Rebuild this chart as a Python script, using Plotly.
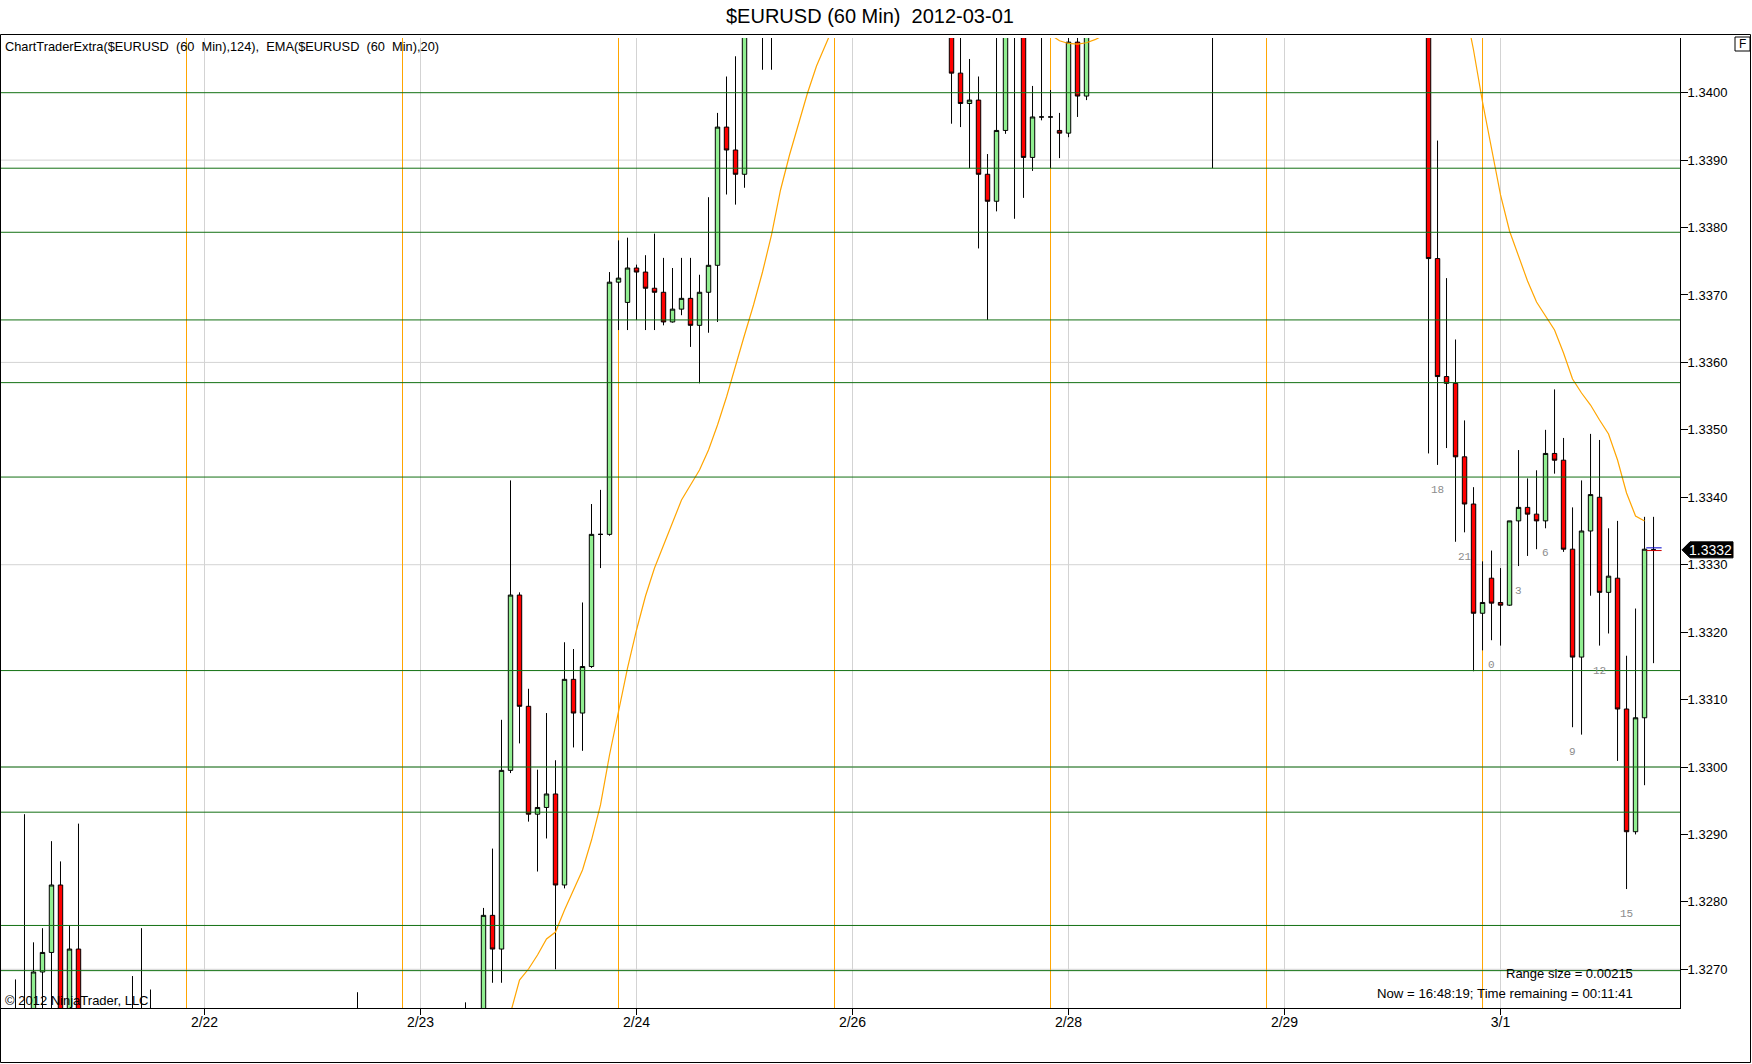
import plotly.graph_objects as go

# ---------------- data ----------------
title_text = "$EURUSD (60 Min)  2012-03-01"
indicator_text = "ChartTraderExtra($EURUSD  (60  Min),124),  EMA($EURUSD  (60  Min),20)"
copyright_text = "© 2012 NinjaTrader, LLC"
range_text = "Range size = 0.00215"
now_text = "Now = 16:48:19; Time remaining = 00:11:41"

# bar slot index (one slot = one 60-minute bar), only bars that reach the visible price window
bar = [-21, -20, -19, -18, -17, -16, -15, -14, -8, -7, -6,
       17, 29, 31, 32, 33, 34, 35, 36, 37, 38, 39, 40, 41, 42, 43, 44, 45, 46, 47,
       48, 49, 50, 51, 52, 53, 54, 55, 56, 57, 58, 59, 60, 62, 63,
       83, 84, 85, 86, 87, 88, 89, 90, 91, 92, 93, 94, 95, 96, 97, 98, 112,
       136, 137, 138, 139, 140, 141, 142, 143, 144, 145, 146, 147, 148, 149, 150,
       151, 152, 153, 154, 155, 156, 157, 158, 159, 160, 161]
opn = [1.32580, 1.32620, 1.32580, 1.32696, 1.32725, 1.32825, 1.32600, 1.32730, 1.32620, 1.32620, 1.32620,
       1.32620, 1.32620, 1.32620, 1.32780, 1.32730, 1.32995, 1.33255, 1.33090, 1.32930, 1.32940, 1.32960, 1.32825, 1.33130, 1.33080, 1.33149, 1.33345, 1.33345, 1.33719, 1.33689,
       1.33740, 1.33734, 1.33710, 1.33704, 1.33660, 1.33679, 1.33695, 1.33655, 1.33704, 1.33744, 1.33949, 1.33915, 1.33879, 1.34150, 1.34180,
       1.34120, 1.34029, 1.33984, 1.33989, 1.33879, 1.33839, 1.33944, 1.34120, 1.34100, 1.33904, 1.33964, 1.33964, 1.33944, 1.33940, 1.34075, 1.33995, 1.34120,
       1.34120, 1.33754, 1.33579, 1.33569, 1.33460, 1.33390, 1.33228, 1.33280, 1.33244, 1.33240, 1.33365, 1.33385, 1.33375, 1.33365, 1.33465,
       1.33455, 1.33323, 1.33163, 1.33350, 1.33400, 1.33259, 1.33280, 1.33086, 1.32904, 1.33073, 1.33322]
high = [1.32685, 1.32930, 1.32740, 1.32761, 1.32890, 1.32860, 1.32765, 1.32916, 1.32690, 1.32761, 1.32670,
        1.32666, 1.32651, 1.32791, 1.32879, 1.33070, 1.33425, 1.33259, 1.33116, 1.32996, 1.33080, 1.33010, 1.33185, 1.33175, 1.33244, 1.33390, 1.33411, 1.33734, 1.33781, 1.33785,
        1.33745, 1.33759, 1.33791, 1.33755, 1.33740, 1.33755, 1.33755, 1.33730, 1.33845, 1.33970, 1.34024, 1.34054, 1.34180, 1.34200, 1.34220,
        1.34150, 1.34100, 1.34050, 1.34024, 1.33909, 1.34100, 1.34150, 1.34160, 1.34130, 1.34010, 1.34090, 1.34004, 1.33970, 1.34100, 1.34090, 1.34120, 1.34150,
        1.34150, 1.33929, 1.33725, 1.33634, 1.33514, 1.33415, 1.33305, 1.33321, 1.33295, 1.33365, 1.33470, 1.33428, 1.33440, 1.33500, 1.33560,
        1.33488, 1.33385, 1.33425, 1.33494, 1.33485, 1.33354, 1.33365, 1.33165, 1.33235, 1.33371, 1.33371]
low = [1.32550, 1.32520, 1.32550, 1.32600, 1.32600, 1.32560, 1.32560, 1.32560, 1.32560, 1.32550, 1.32580,
       1.32560, 1.32550, 1.32580, 1.32680, 1.32680, 1.32991, 1.33035, 1.32919, 1.32845, 1.32894, 1.32700, 1.32820, 1.33029, 1.33024, 1.33147, 1.33295, 1.33343, 1.33648, 1.33648,
       1.33663, 1.33648, 1.33648, 1.33655, 1.33659, 1.33670, 1.33623, 1.33569, 1.33644, 1.33660, 1.33849, 1.33834, 1.33859, 1.34034, 1.34034,
       1.33954, 1.33949, 1.33888, 1.33769, 1.33663, 1.33824, 1.33939, 1.33813, 1.33844, 1.33884, 1.33959, 1.33888, 1.33903, 1.33934, 1.33964, 1.33989, 1.33888,
       1.33465, 1.33448, 1.33473, 1.33334, 1.33348, 1.33142, 1.33173, 1.33188, 1.33180, 1.33239, 1.33298, 1.33313, 1.33323, 1.33354, 1.33435,
       1.33319, 1.33059, 1.33048, 1.33254, 1.33180, 1.33198, 1.33009, 1.32819, 1.32900, 1.32973, 1.33154]
close = [1.32620, 1.32580, 1.32696, 1.32725, 1.32825, 1.32600, 1.32730, 1.32600, 1.32600, 1.32610, 1.32610,
         1.32600, 1.32580, 1.32780, 1.32730, 1.32995, 1.33255, 1.33090, 1.32930, 1.32940, 1.32960, 1.32825, 1.33130, 1.33080, 1.33149, 1.33345, 1.33345, 1.33719, 1.33725, 1.33740,
         1.33734, 1.33710, 1.33704, 1.33660, 1.33679, 1.33695, 1.33655, 1.33704, 1.33744, 1.33949, 1.33915, 1.33879, 1.34120, 1.34180, 1.34150,
         1.34029, 1.33984, 1.33989, 1.33879, 1.33839, 1.33944, 1.34120, 1.34100, 1.33904, 1.33964, 1.33964, 1.33964, 1.33940, 1.34075, 1.33995, 1.34100, 1.34100,
         1.33754, 1.33579, 1.33569, 1.33460, 1.33390, 1.33228, 1.33244, 1.33243, 1.33240, 1.33365, 1.33385, 1.33375, 1.33365, 1.33465, 1.33455,
         1.33323, 1.33163, 1.33350, 1.33404, 1.33259, 1.33283, 1.33086, 1.32904, 1.33073, 1.33323, 1.33322]

# EMA(20) (None = gap where it leaves the window)
ema_bar = [34, 35, 36, 37, 38, 39, 40, 41, 42, 43, 44, 45, 46, 47, 48, 49, 50, 51, 52, 53, 54,
           55, 56, 57, 58, 59, 60, 61, 62, 63, 64, 65, 66, 67, 68, 69, 70, 71, None,
           94, 95, 96, 97, 98, 99, 100, None,
           139, 140, 141, 142, 143, 144, 145, 146, 147, 148, 149, 150, 151, 152, 153, 154,
           155, 156, 157, 158, 159, 160]
ema_val = [1.326352, 1.326841, 1.327004, 1.327212, 1.327449, 1.327553, 1.327879, 1.328176, 1.328472,
           1.328917, 1.329437, 1.330178, 1.330845, 1.331468, 1.332032, 1.332536, 1.332951, 1.333292,
           1.333633, 1.333960, 1.334182, 1.334405, 1.334701, 1.335072, 1.335487, 1.335962, 1.336407,
           1.336852, 1.337341, 1.337890, 1.338557, 1.339076, 1.339551, 1.339996, 1.340396, 1.340722,
           1.341019, 1.341301, None,
           1.34086, 1.34077, 1.34073, 1.34072, 1.34074, 1.34079, 1.34086, None,
           1.341968, 1.341301, 1.340633, 1.339862, 1.339150, 1.338483, 1.337949, 1.337563, 1.337207,
           1.336896, 1.336688, 1.336481, 1.336140, 1.335754, 1.335546, 1.335368, 1.335146, 1.334938,
           1.334553, 1.334064, 1.333722, 1.333648]

# ChartTraderExtra horizontal levels
levels = [1.34000, 1.33888, 1.33793, 1.33663, 1.33570, 1.33430, 1.33143, 1.33000, 1.32933, 1.32765, 1.32698]
# price grid (every 30 pips) and axis ticks
grid_prices = [1.3270, 1.3300, 1.3330, 1.3360, 1.3390]
y_ticks = [1.3270, 1.3280, 1.3290, 1.3300, 1.3310, 1.3320, 1.3330, 1.3340, 1.3350, 1.3360, 1.3370, 1.3380, 1.3390, 1.3400]
# date ticks (bar slots) and session-break lines
date_bars = [0, 24, 48, 72, 96, 120, 144]
date_labels = ["2/22", "2/23", "2/24", "2/26", "2/28", "2/29", "3/1"]
session_bars = [-2, 22, 46, 70, 94, 118, 142]
# hour-of-day labels under selected bars
hour_bars = [137, 140, 143, 146, 149, 152, 155, 158]
hour_labels = ["18", "21", "0", "3", "6", "9", "12", "15"]
ask_price, bid_price = 1.33325, 1.33321

# visible window
x_range = [-22.61, 163.94]
y_range = [1.326426, 1.340811]

# ---------------- layout helpers ----------------
W, H = 1752, 1064
ML, MR, MT, MB = 1, 72, 38, 56
PW, PH = W - ML - MR, H - MT - MB


def pxx(px):
    return (px - ML) / PW


def pxy(py):
    return (H - MB - py) / PH


FONT = "Liberation Sans, Arial, sans-serif"
nb = lambda s: s.replace(" ", "\u00a0")

fig = go.Figure()

fig.add_trace(go.Candlestick(
    x=bar, open=opn, high=high, low=low, close=close,
    increasing=dict(fillcolor="#90EE90", line=dict(color="black", width=1)),
    decreasing=dict(fillcolor="#FF0000", line=dict(color="black", width=1)),
    whiskerwidth=0, hoverinfo="skip", showlegend=False,
))

fig.add_trace(go.Scatter(
    x=ema_bar, y=ema_val, mode="lines", connectgaps=False,
    line=dict(color="#FFA500", width=1.2), hoverinfo="skip", showlegend=False,
))

shapes = []
for p in grid_prices:
    shapes.append(dict(type="line", xref="paper", yref="y", x0=0, x1=1, y0=p, y1=p,
                       line=dict(color="#D3D3D3", width=1), layer="below"))
for b in date_bars:
    shapes.append(dict(type="line", xref="x", yref="paper", x0=b, x1=b, y0=0, y1=1,
                       line=dict(color="#D3D3D3", width=1), layer="below"))
for b in session_bars:
    shapes.append(dict(type="line", xref="x", yref="paper", x0=b, x1=b, y0=0, y1=1,
                       line=dict(color="#FFA500", width=1), layer="below"))
for p in levels:
    shapes.append(dict(type="line", xref="paper", yref="y", x0=0, x1=1, y0=p, y1=p,
                       line=dict(color="#137013", width=1), layer="above"))

last_bar = bar[-1]
shapes.append(dict(type="line", xref="x", yref="y", x0=last_bar - 0.8, x1=last_bar + 0.9,
                   y0=ask_price, y1=ask_price, line=dict(color="#0000CC", width=1)))
shapes.append(dict(type="line", xref="x", yref="y", x0=last_bar - 0.8, x1=last_bar + 0.9,
                   y0=bid_price, y1=bid_price, line=dict(color="#CC0000", width=1)))

# last price marker
last_price = close[-1]
shapes.append(dict(type="path", xref="paper", yref="y", xsizemode="pixel", ysizemode="pixel",
                   xanchor=1, yanchor=last_price,
                   path="M 2 0 L 10 8 L 53 8 L 53 -8 L 10 -8 Z",
                   fillcolor="black", line=dict(color="black", width=1), layer="above"))

# outer frame and "F" box
shapes.append(dict(type="rect", xref="paper", yref="paper", x0=pxx(0.5), x1=pxx(1750.5),
                   y0=pxy(1062.5), y1=pxy(34.5), line=dict(color="black", width=1),
                   fillcolor="rgba(0,0,0,0)", layer="above"))
shapes.append(dict(type="rect", xref="paper", yref="paper", x0=pxx(1735), x1=pxx(1750),
                   y0=pxy(51), y1=pxy(37), line=dict(color="black", width=1),
                   fillcolor="white", layer="above"))

annotations = [
    dict(text=nb(title_text), xref="paper", yref="paper", x=pxx(870), y=pxy(16),
         xanchor="center", yanchor="middle", showarrow=False,
         font=dict(family=FONT, size=20, color="black")),
    dict(text=nb(indicator_text), xref="paper", yref="paper", x=pxx(3), y=pxy(47),
         xanchor="left", yanchor="middle", showarrow=False,
         font=dict(family=FONT, size=12.8, color="black")),
    dict(text=nb(copyright_text), xref="paper", yref="paper", x=pxx(3), y=pxy(1000),
         xanchor="left", yanchor="middle", showarrow=False,
         font=dict(family=FONT, size=13, color="black")),
    dict(text=nb(range_text), xref="paper", yref="paper", x=pxx(1635), y=pxy(973),
         xanchor="right", yanchor="middle", showarrow=False,
         font=dict(family=FONT, size=13, color="black")),
    dict(text=nb(now_text), xref="paper", yref="paper", x=pxx(1635), y=pxy(993),
         xanchor="right", yanchor="middle", showarrow=False,
         font=dict(family=FONT, size=13.2, color="black")),
    dict(text="F", xref="paper", yref="paper", x=pxx(1742.5), y=pxy(44),
         xanchor="center", yanchor="middle", showarrow=False,
         font=dict(family=FONT, size=12, color="black")),
    dict(text=f"{last_price:.4f}", xref="paper", yref="y", x=pxx(1711), y=last_price,
         xanchor="center", yanchor="middle", showarrow=False,
         font=dict(family=FONT, size=14, color="white")),
]
for b, t in zip(hour_bars, hour_labels):
    annotations.append(dict(text=t, xref="x", yref="y", x=b, y=low[bar.index(b)], yshift=-25,
                            xanchor="center", yanchor="middle", showarrow=False,
                            font=dict(family="Liberation Mono, monospace", size=11, color="#8C8C8C")))

fig.update_layout(
    width=W, height=H,
    margin=dict(l=ML, r=MR, t=MT, b=MB, pad=0, autoexpand=False),
    paper_bgcolor="white", plot_bgcolor="white",
    showlegend=False, hovermode=False,
    shapes=shapes, annotations=annotations,
    xaxis=dict(range=x_range, rangeslider=dict(visible=False), showgrid=False, zeroline=False,
               automargin=False,
               tickmode="array", tickvals=date_bars, ticktext=date_labels,
               ticks="outside", ticklen=6, tickcolor="black", showline=True, linecolor="black",
               linewidth=1, ticklabelstandoff=-5,
               tickfont=dict(family=FONT, size=14, color="black")),
    yaxis=dict(range=y_range, side="right", showgrid=False, zeroline=False,
               automargin=False,
               tickmode="array", tickvals=y_ticks, ticktext=[f"{v:.4f}" for v in y_ticks],
               ticks="outside", ticklen=7, tickcolor="black", showline=True, linecolor="black",
               linewidth=1, ticklabelstandoff=-3,
               tickfont=dict(family=FONT, size=13, color="black")),
)

fig.write_html(
    "out.html",
    config={"displayModeBar": False},
    post_script="document.body.style.margin='0px';document.body.style.overflow='hidden';",
)
